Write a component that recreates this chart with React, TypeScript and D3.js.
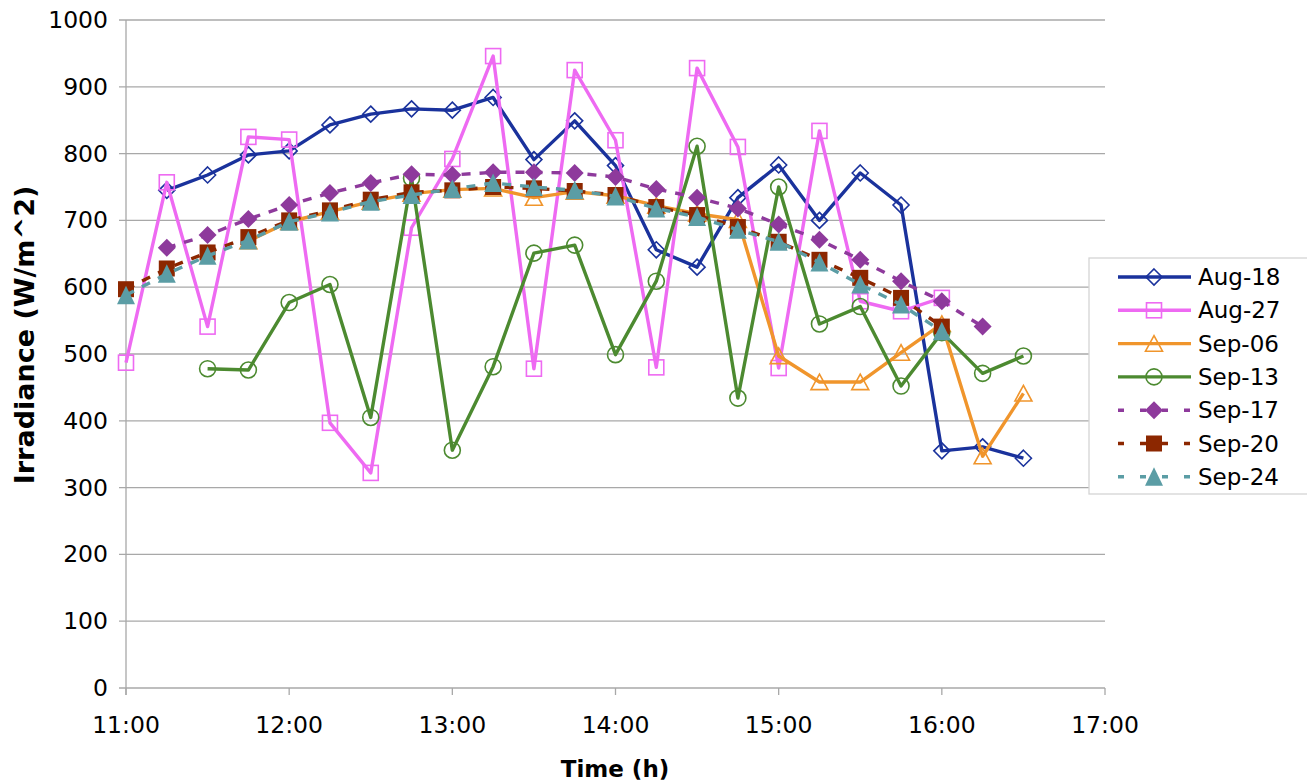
import React from "react";
import * as d3 from "d3";

const times = ["11:00","11:15","11:30","11:45","12:00","12:15","12:30","12:45","13:00","13:15","13:30","13:45","14:00","14:15","14:30","14:45","15:00","15:15","15:30","15:45","16:00","16:15","16:30"];
const xTickLabels = ["11:00","12:00","13:00","14:00","15:00","16:00","17:00"];
const yTicks = [0,100,200,300,400,500,600,700,800,900,1000];

const aug18 = [null,745,768,798,804,843,859,867,865,884,791,849,782,656,630,734,783,700,771,723,355,361,344];
const aug27 = [487,757,541,825,821,397,322,689,792,946,478,925,820,480,928,810,479,834,579,564,584,null,null];
const sep06 = [null,null,null,669,698,713,728,740,746,748,734,743,737,722,710,701,497,458,458,502,545,347,441];
const sep13 = [null,null,478,476,577,604,405,763,356,481,651,663,499,609,811,434,750,545,571,452,532,471,497];
const sep17 = [null,659,678,702,723,741,756,769,768,772,772,771,765,747,734,718,694,671,641,609,579,541,null];
const sep20 = [597,628,652,675,700,715,731,742,745,750,748,744,738,720,708,690,668,641,614,584,541,null,null];
const sep24 = [588,620,647,670,698,712,728,738,747,756,750,745,736,718,705,686,668,637,604,574,534,null,null];

const seriesNames = ["Aug-18","Aug-27","Sep-06","Sep-13","Sep-17","Sep-20","Sep-24"];
const seriesValues = [aug18, aug27, sep06, sep13, sep17, sep20, sep24];
const seriesColors = ["#1a329c","#ee6af2","#f0952c","#4c8a30","#8e3a9c","#8c2700","#5b9da5"];
const seriesMarkers = ["diamond","square","triangle","circle","diamond","square","triangle"];
const seriesFilled = [false,false,false,false,true,true,true];
const seriesDashed = [false,false,false,false,true,true,true];

const toHours = (t: string) => {
  const [h, m] = t.split(":").map(Number);
  return h + m / 60;
};

const FONT = "'DejaVu Sans', Verdana, sans-serif";

function Marker({ kind, filled, color }: { kind: string; filled: boolean; color: string }) {
  const fill = filled ? color : "none";
  const sw = filled ? 0 : 1.6;
  if (kind === "diamond") {
    const r = filled ? 9 : 8;
    return <path d={`M0,${-r}L${r},0L0,${r}L${-r},0Z`} fill={fill} stroke={color} strokeWidth={sw} />;
  }
  if (kind === "square") {
    const s = filled ? 16 : 15;
    return <rect x={-s / 2} y={-s / 2} width={s} height={s} fill={fill} stroke={color} strokeWidth={sw} />;
  }
  if (kind === "triangle") {
    const w = filled ? 9 : 8.5;
    const h = filled ? 9.5 : 8;
    return <path d={`M0,${-h}L${w},${h * 0.95}L${-w},${h * 0.95}Z`} fill={fill} stroke={color} strokeWidth={sw} />;
  }
  return <circle r={8} fill={fill} stroke={color} strokeWidth={sw} />;
}

export default function App() {
  const W = 1307, H = 784;
  const left = 126, right = 1105, top = 20, bottom = 688;
  const x = d3.scaleLinear().domain([11, 17]).range([left, right]);
  const y = d3.scaleLinear().domain([0, 1000]).range([bottom, top]);
  const gridColor = "#a8a8a8";

  const lineGen = d3.line<[number, number | null]>()
    .defined((d) => d[1] != null)
    .x((d) => x(toHours(times[d[0]])))
    .y((d) => y(d[1] as number));

  return (
    <svg width={W} height={H} style={{ position: "absolute", left: 0, top: 0, background: "#fff" }} fontFamily={FONT}>
      {yTicks.map((t) => (
        <g key={t}>
          <line x1={left - 7} x2={right} y1={y(t)} y2={y(t)} stroke={gridColor} strokeWidth={1.3} />
          <text x={108} y={y(t)} textAnchor="end" dominantBaseline="central" fontSize={23.5} fill="#000">{t}</text>
        </g>
      ))}
      <line x1={left} x2={left} y1={top} y2={bottom + 7} stroke={gridColor} strokeWidth={1.3} />
      {xTickLabels.map((t) => (
        <g key={t}>
          <line x1={x(toHours(t))} x2={x(toHours(t))} y1={bottom} y2={bottom + 7} stroke={gridColor} strokeWidth={1.3} />
          <text x={x(toHours(t))} y={733} textAnchor="middle" fontSize={23.5} fill="#000">{t}</text>
        </g>
      ))}
      <text x={615} y={777} textAnchor="middle" fontSize={23} fontWeight="bold">Time (h)</text>
      <text transform="translate(34,335) rotate(-90)" textAnchor="middle" fontSize={27} fontWeight="bold">Irradiance (W/m^2)</text>

      {seriesValues.map((vals, si) => {
        const pts = vals.map((v, i) => [i, v] as [number, number | null]);
        return (
          <g key={seriesNames[si]}>
            <path d={lineGen(pts) || ""} fill="none" stroke={seriesColors[si]} strokeWidth={3.4}
              strokeDasharray={seriesDashed[si] ? "9,9" : undefined} strokeLinejoin="round" />
            {pts.filter((p) => p[1] != null).map((p) => (
              <g key={p[0]} transform={`translate(${x(toHours(times[p[0]]))},${y(p[1] as number)})`}>
                <Marker kind={seriesMarkers[si]} filled={seriesFilled[si]} color={seriesColors[si]} />
              </g>
            ))}
          </g>
        );
      })}

      <rect x={1089} y={258} width={240} height={236} fill="#fff" stroke="#d4d4d4" strokeWidth={1.3} />
      {seriesNames.map((n, i) => {
        const cy = 277 + i * 33.3;
        return (
          <g key={n}>
            <line x1={1118} x2={1191} y1={cy} y2={cy} stroke={seriesColors[i]} strokeWidth={3.4}
              strokeDasharray={seriesDashed[i] ? "6,16" : undefined} />
            <g transform={`translate(1154,${cy})`}>
              <Marker kind={seriesMarkers[i]} filled={seriesFilled[i]} color={seriesColors[i]} />
            </g>
            <text x={1198} y={cy} dominantBaseline="central" fontSize={23} fill="#000">{n}</text>
          </g>
        );
      })}
    </svg>
  );
}
